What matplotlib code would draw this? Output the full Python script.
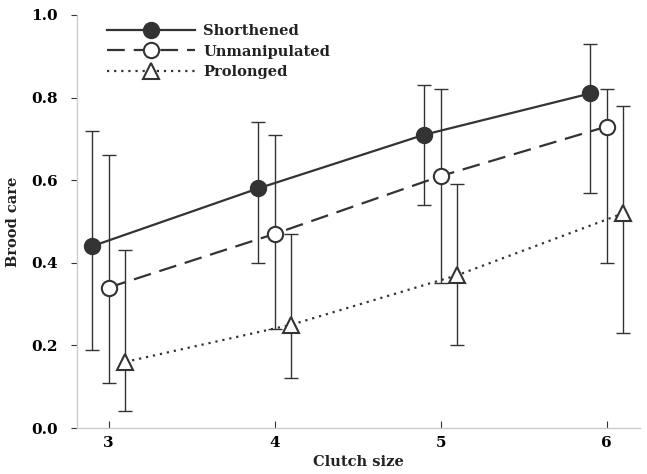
import numpy as np
import matplotlib.pyplot as plt

clutch = np.array([3, 4, 5, 6])

short_mean = [0.44, 0.58, 0.71, 0.81]
short_lo = [0.19, 0.40, 0.54, 0.57]
short_hi = [0.72, 0.74, 0.83, 0.93]

unman_mean = [0.34, 0.47, 0.61, 0.73]
unman_lo = [0.11, 0.24, 0.35, 0.40]
unman_hi = [0.66, 0.71, 0.82, 0.82]

prol_mean = [0.16, 0.25, 0.37, 0.52]
prol_lo = [0.04, 0.12, 0.20, 0.23]
prol_hi = [0.43, 0.47, 0.59, 0.78]

plt.rcParams['font.family'] = ['DejaVu Serif']
plt.rcParams['font.weight'] = 'bold'
col = '#333333'

fig = plt.figure(figsize=(6.47, 4.74), dpi=100)
ax = fig.add_axes([77 / 647, 46 / 474, 563 / 647, 413 / 474])

series = [
    ('Shorthened', short_mean, short_lo, short_hi, -0.1, '-', 'o', col),
    ('Unmanipulated', unman_mean, unman_lo, unman_hi, 0.0, (0, (8, 4)), 'o', 'white'),
    ('Prolonged', prol_mean, prol_lo, prol_hi, 0.1, (0, (1, 2.2)), '^', 'white'),
]

for name, m, lo, hi, off, ls, mk, fc in series:
    m = np.array(m)
    err = [m - np.array(lo), np.array(hi) - m]
    xs = clutch + off
    ax.errorbar(xs, m, yerr=err, fmt='none', ecolor=col, elinewidth=1,
                capsize=5, capthick=1, zorder=2)
    ax.plot(xs, m, color=col, linestyle=ls, linewidth=1.6, marker=mk,
            markersize=11 if mk == 'o' else 12, markerfacecolor=fc,
            markeredgecolor=col, markeredgewidth=1.5, label=name, zorder=3)

ax.set_xlim(2.81, 6.2)
ax.set_ylim(0, 1.0)
ax.set_xticks(clutch)
ax.set_yticks([0.0, 0.2, 0.4, 0.6, 0.8, 1.0])
ax.set_yticklabels(['0.0', '0.2', '0.4', '0.6', '0.8', '1.0'])
ax.tick_params(axis='x', direction='in', length=5, color=col, labelsize=11, pad=6)
ax.tick_params(axis='y', direction='out', length=4, color=col, labelsize=11, pad=10)
for s in ['top', 'right']:
    ax.spines[s].set_visible(False)
for s in ['left', 'bottom']:
    ax.spines[s].set_color('#cccccc')
    ax.spines[s].set_linewidth(1)

ax.set_xlabel('Clutch size', fontsize=10.5, fontweight='bold', color='#222222', labelpad=3)
ax.set_ylabel('Brood care', fontsize=10.5, fontweight='bold', color='#222222', labelpad=8)

leg = ax.legend(loc='upper left', bbox_to_anchor=(0.03, 1.01), frameon=False,
                handlelength=6.0, fontsize=10.5, labelspacing=0.45, handletextpad=0.6)
for t in leg.get_texts():
    t.set_color('#222222')

fig.savefig('out.png', dpi=100)
